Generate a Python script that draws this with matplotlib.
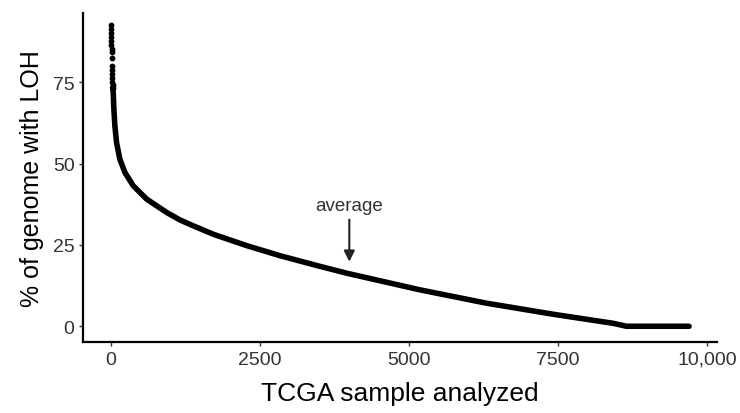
import matplotlib.pyplot as plt

plt.rcParams['font.family'] = ['Liberation Sans', 'DejaVu Sans']

# samples sorted by LOH fraction (descending); a few discrete points at the top
top_idx = [0, 2, 4, 6, 8, 10, 12, 14, 16, 18, 20, 22, 24, 26, 28, 30]
top_vals = [92.6, 91.4, 90.2, 89.0, 87.8, 86.6, 85.4, 84.2, 82.4, 80.0, 78.8, 77.6, 76.4, 75.2, 74.2, 73.4]

curve_idx = [30, 39, 50, 67, 95, 150, 235, 375, 600, 935, 1158, 1380, 1717, 2277,
             2836, 3450, 3960, 5185, 6300, 7420, 8430, 8650, 9700]
curve_vals = [73.4, 71.9, 66.8, 61.6, 56.5, 51.4, 47.3, 43.2, 39.1, 35.0, 32.7, 30.9, 28.3, 24.8,
              21.7, 18.7, 16.3, 11.2, 7.1, 3.7, 0.9, 0, 0]

avg_x = 4000
avg_y = 19

fig = plt.figure(figsize=(7.4, 4.14), dpi=100)
ax = fig.add_axes([0.112, 0.171, 0.857, 0.795])

ax.plot(curve_idx, curve_vals, color='black', lw=4, solid_capstyle='round', solid_joinstyle='round')
ax.scatter(top_idx, top_vals, s=10, color='black', zorder=3)

ax.annotate('average', xy=(avg_x, avg_y), xytext=(avg_x, 34.5),
            ha='center', va='bottom', fontsize=13.5, color='#333333',
            arrowprops=dict(arrowstyle='-|>', color='#222222', lw=1.5, mutation_scale=16))

ax.set_xlim(-470, 10170)
ax.set_ylim(-4.9, 96.3)
ax.set_xticks([0, 2500, 5000, 7500, 10000])
ax.set_xticklabels(['0', '2500', '5000', '7500', '10,000'])
ax.set_yticks([0, 25, 50, 75])

for s in ['top', 'right']:
    ax.spines[s].set_visible(False)
for s in ['left', 'bottom']:
    ax.spines[s].set_linewidth(1.6)
ax.tick_params(axis='both', length=3, width=1, color='#333333', labelsize=14,
               labelcolor='#333333', pad=3)

ax.set_xlabel('TCGA sample analyzed', fontsize=19, labelpad=10)
ax.set_ylabel('% of genome with LOH', fontsize=18, labelpad=6)

plt.savefig('out.png', dpi=100)
